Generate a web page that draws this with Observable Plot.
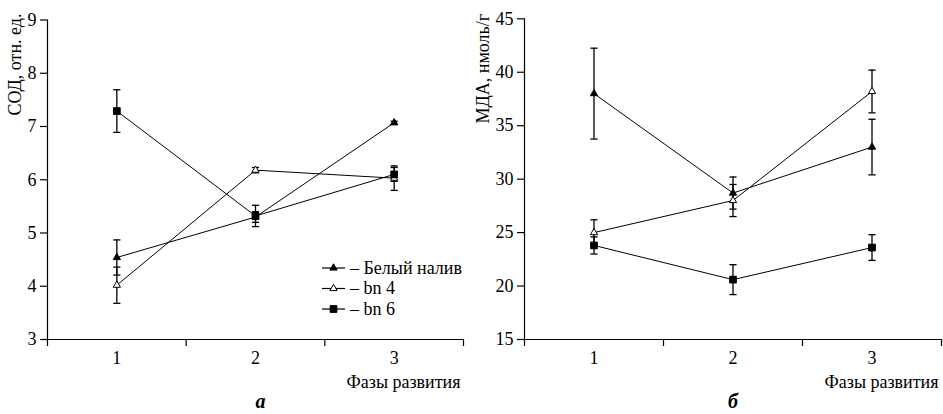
<!DOCTYPE html>
<html>
<head>
<meta charset="utf-8">
<script src="https://cdn.jsdelivr.net/npm/d3@7"></script>
<script src="https://cdn.jsdelivr.net/npm/@observablehq/plot@0.6"></script>
<style>
  html, body { margin: 0; padding: 0; background: #fff; }
  #wrap { display: flex; width: 943px; height: 414px; overflow: hidden; }
  #wrap svg text { font-family: 'Liberation Serif'; }
</style>
</head>
<body>
<div id="wrap"></div>
<script>
// ---- data ----
const phases = [1, 2, 3];
const seriesNames = ["Белый налив", "bn 4", "bn 6"];

// СОД, отн. ед.
const sodWhite    = [4.54, 5.30, 7.07];
const sodWhiteErr = [0.33, 0.10, 0.03];
const sodBn4      = [4.02, 6.18, 6.03];
const sodBn4Err   = [0.34, 0.05, 0.23];
const sodBn6      = [7.29, 5.32, 6.10];
const sodBn6Err   = [0.40, 0.20, 0.13];

// МДА, нмоль/г
const mdaWhite    = [38.0, 28.7, 33.0];
const mdaWhiteErr = [4.25, 1.5, 2.6];
const mdaBn4      = [25.0, 28.0, 38.2];
const mdaBn4Err   = [1.2, 1.5, 2.0];
const mdaBn6      = [23.8, 20.6, 23.6];
const mdaBn6Err   = [0.8, 1.4, 1.2];

const sodTicks = [3, 4, 5, 6, 7, 8, 9];
const mdaTicks = [15, 20, 25, 30, 35, 40, 45];
const phaseTickLabels = ["1", "2", "3"];

// ---- helpers ----
function rows(series, ys, es) {
  return phases.map((p, i) => ({phase: p, series, value: ys[i], err: es[i]}));
}
const FONT = "Liberation Serif";
const capSymbol = {draw(ctx) { ctx.moveTo(-3.6, 0); ctx.lineTo(3.6, 0); }};
const seriesStyle = [
  {symbol: "triangle", fill: "black", r: 2.7},
  {symbol: "triangle", fill: "white", r: 2.7},
  {symbol: "square", fill: "black", r: 3.8}
];

function legendMark(index, scales, values, dim) {
  const g = d3.create("svg:g");
  const right = dim.width - dim.marginRight;
  const x0 = right - 141, y0 = 268, step = 20.5;
  seriesNames.forEach((name, i) => {
    const y = y0 + i * step;
    const st = seriesStyle[i];
    g.append("line").attr("x1", x0).attr("x2", x0 + 23).attr("y1", y).attr("y2", y)
      .attr("stroke", "black").attr("stroke-width", 1.2);
    const size = st.r * st.r * Math.PI;
    const sym = st.symbol === "square" ? d3.symbolSquare : d3.symbolTriangle;
    g.append("path").attr("d", d3.symbol(sym, size)()).attr("transform", `translate(${x0 + 11.5},${y})`)
      .attr("fill", st.fill).attr("stroke", "black").attr("stroke-width", 1);
    g.append("text").attr("x", x0 + 28).attr("y", y).attr("dy", "0.33em")
      .attr("text-anchor", "start")
      .attr("font-family", FONT).attr("font-size", 18).attr("fill", "black")
      .text("– " + name);
  });
  return g.node();
}

function panel({sets, yDomain, yTicks, yLabel, letter, width, marginLeft, marginRight, marginTop, ylabelDx, ylabelDy, letterDx, legend}) {
  const all = sets.flat();
  const marks = [
    Plot.axisY({ticks: yTicks, tickSize: 7, tickPadding: 4, tickFormat: d => String(d), label: null, fontSize: 18, fontFamily: FONT, strokeWidth: 1.2}),
    Plot.axisX({ticks: [0.5, 1.5, 2.5, 3.5], tickSize: 7, tickFormat: () => "", label: null, strokeWidth: 1.2}),
    Plot.axisX({ticks: phases, tickSize: 0, tickPadding: 12, tickFormat: (d, i) => phaseTickLabels[i], label: null, fontSize: 18, fontFamily: FONT}),
    Plot.ruleX([0.5], {strokeWidth: 1.2}),
    Plot.ruleY([yDomain[0]], {strokeWidth: 1.2}),
    Plot.line(all, {x: "phase", y: "value", z: "series", stroke: "black", strokeWidth: 1}),
    Plot.ruleX(all, {x: "phase", y1: d => d.value - d.err, y2: d => d.value + d.err, stroke: "black", strokeWidth: 1.3}),
    Plot.dot(all, {x: "phase", y: d => d.value + d.err, symbol: capSymbol, fill: "none", stroke: "black", strokeWidth: 1.3}),
    Plot.dot(all, {x: "phase", y: d => d.value - d.err, symbol: capSymbol, fill: "none", stroke: "black", strokeWidth: 1.3}),
    ...sets.map((s, i) => Plot.dot(s, {x: "phase", y: "value", symbol: seriesStyle[i].symbol, r: seriesStyle[i].r, fill: seriesStyle[i].fill, stroke: "black", strokeWidth: 1})),
    Plot.text([yLabel], {frameAnchor: "top-left", rotate: -90, textAnchor: "end", lineAnchor: "middle", dx: ylabelDx, dy: ylabelDy, fontSize: 18, fontFamily: FONT}),
    Plot.text(["Фазы развития"], {frameAnchor: "bottom-right", textAnchor: "end", lineAnchor: "middle", dx: -3, dy: 43, fontSize: 18, fontFamily: FONT}),
    Plot.text([letter], {frameAnchor: "bottom", lineAnchor: "middle", dx: letterDx, dy: 62, fontSize: 20, fontWeight: "bold", fontStyle: "italic", fontFamily: FONT})
  ];
  if (legend) marks.push(legendMark);
  return Plot.plot({
    width, height: 414, marginLeft, marginRight, marginTop, marginBottom: 75,
    style: {fontFamily: FONT, fontSize: "18px", background: "white", color: "black", overflow: "visible"},
    x: {domain: [0.5, 3.5]},
    y: {domain: yDomain},
    marks
  });
}

const left = panel({
  sets: [rows(seriesNames[0], sodWhite, sodWhiteErr), rows(seriesNames[1], sodBn4, sodBn4Err), rows(seriesNames[2], sodBn6, sodBn6Err)],
  yDomain: [3, 9], yTicks: sodTicks, yLabel: "СОД, отн. ед.", letter: "а",
  width: 470, marginLeft: 47, marginRight: 7, marginTop: 19.5,
  ylabelDx: -32, ylabelDy: -6.5, letterDx: 5, legend: true
});
const right = panel({
  sets: [rows(seriesNames[0], mdaWhite, mdaWhiteErr), rows(seriesNames[1], mdaBn4, mdaBn4Err), rows(seriesNames[2], mdaBn6, mdaBn6Err)],
  yDomain: [15, 45], yTicks: mdaTicks, yLabel: "МДА, нмоль/г", letter: "б",
  width: 473, marginLeft: 54, marginRight: 2, marginTop: 18.3,
  ylabelDx: -41, ylabelDy: -5, letterDx: 0, legend: false
});
document.getElementById("wrap").append(left, right);
</script>
</body>
</html>
